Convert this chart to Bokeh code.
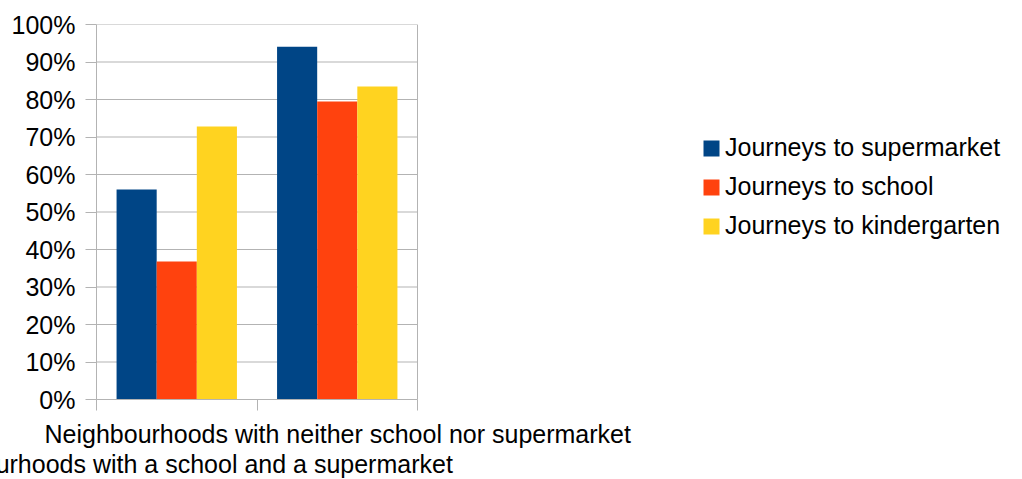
from bokeh.plotting import figure
from bokeh.models import (Range1d, LinearAxis, FixedTicker, NumeralTickFormatter,
                          Legend, LegendItem, ColumnDataSource, Title)
from bokeh.transform import dodge
from bokeh.embed import file_html
from bokeh.resources import INLINE

categories = ["Neighbourhoods with a school and a supermarket",
              "Neighbourhoods with neither school nor supermarket"]
series_names = ["Journeys to supermarket", "Journeys to school", "Journeys to kindergarten"]
supermarket = [0.56, 0.941]
school = [0.368, 0.795]
kindergarten = [0.728, 0.835]
colors = ["#004586", "#ff420e", "#ffd320"]
y_ticks = [i / 10 for i in range(11)]

FONT = "Liberation Sans"
FS = "25px"
GRID = "#b3b3b3"

W, H = 1022, 479
LEFT = 96
PLOT_W = 321            # pixel width of the bar area
FRAME_W = W - LEFT      # frame runs to the right edge so the legend can sit inside it

n = len(categories)
centers = [i + 0.5 for i in range(n)]
source = ColumnDataSource(dict(x=centers, cat=categories, sup=supermarket, sch=school, kin=kindergarten))

p = figure(width=W, height=H, x_range=Range1d(0, n * FRAME_W / PLOT_W), y_range=Range1d(0, 1),
           output_backend="svg", toolbar_location=None, x_axis_location=None,
           min_border_left=LEFT, min_border_right=0, min_border_top=24, min_border_bottom=80)
p.outline_line_color = None
p.background_fill_color = "white"
p.border_fill_color = "white"
p.xgrid.visible = False
p.ygrid.visible = False

# horizontal grid lines and right border limited to the bar area
p.segment(x0=[0] * len(y_ticks), x1=[n] * len(y_ticks), y0=y_ticks, y1=y_ticks,
          line_color=GRID, line_width=1)
p.segment(x0=[n], x1=[n], y0=[y_ticks[0]], y1=[y_ticks[-1]], line_color=GRID, line_width=1)

renderers = []
for key, off, col in zip(["sup", "sch", "kin"], [-0.25, 0.0, 0.25], colors):
    r = p.vbar(x=dodge("x", off), top=key, width=0.25, source=source,
               fill_color=col, line_color=None)
    renderers.append(r)

# y axis
ya = p.yaxis[0]
ya.ticker = FixedTicker(ticks=y_ticks)
ya.formatter = NumeralTickFormatter(format="0%")
ya.axis_line_color = GRID
ya.major_tick_line_color = GRID
ya.major_tick_out = 11
ya.major_tick_in = 0
ya.minor_tick_line_color = None
ya.major_label_standoff = 10
ya.major_label_text_font = FONT
ya.major_label_text_font_size = FS
ya.major_label_text_color = "#000000"

# x axis with ticks at category boundaries (no labels)
edges = list(range(n + 1))
xa = LinearAxis(ticker=FixedTicker(ticks=edges), bounds=(0, n))
xa.major_label_overrides = {e: "" for e in edges}
xa.major_label_standoff = 0
xa.axis_line_color = GRID
xa.major_tick_line_color = GRID
xa.major_tick_out = 11
xa.major_tick_in = 0
xa.minor_tick_line_color = None
p.add_layout(xa, "below")

# staggered category labels: second category on the first row, first on the second row
rows = [(1, -52, 14), (0, -194, -14)]
for idx, off, so in rows:
    t = Title(text=categories[idx], align="left", offset=off, standoff=so,
              text_font=FONT, text_font_size=FS, text_font_style="normal",
              text_color="#000000")
    p.add_layout(t, "below")

legend = Legend(items=[LegendItem(label=s, renderers=[r]) for s, r in zip(series_names, renderers)],
                location=(605, 159), orientation="vertical")
legend.border_line_color = None
legend.background_fill_alpha = 0
legend.padding = 0
legend.margin = 0
legend.glyph_width = 20
legend.glyph_height = 20
legend.label_height = 28
legend.spacing = 10
legend.label_standoff = 4
legend.label_text_font = FONT
legend.label_text_font_size = FS
legend.label_text_color = "#000000"
p.add_layout(legend, "center")

open("out.html", "w").write(file_html(p, INLINE))
